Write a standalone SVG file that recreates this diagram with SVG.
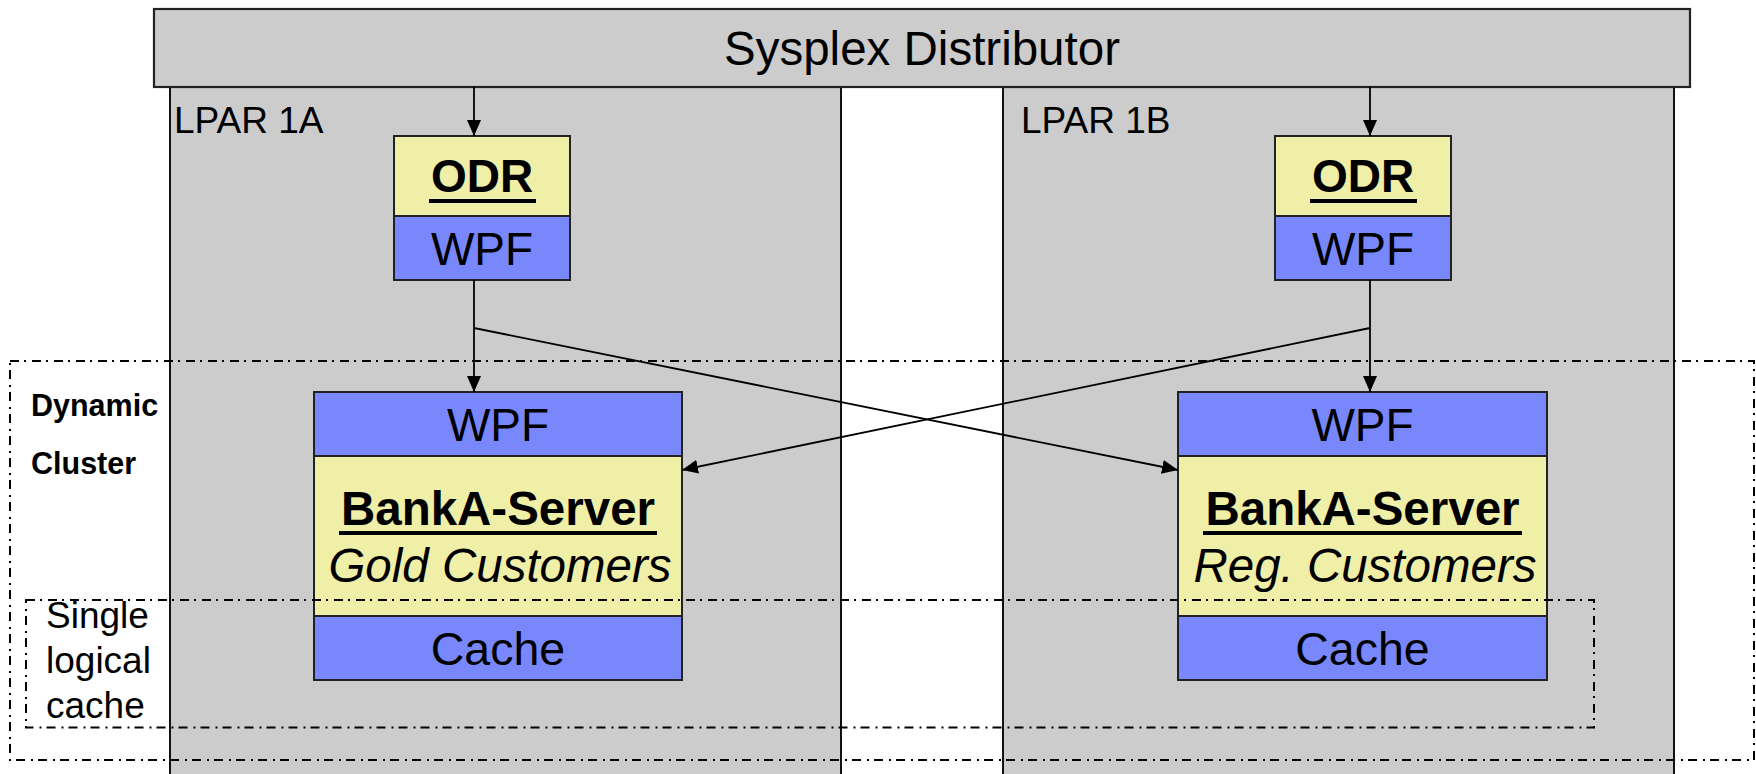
<svg xmlns="http://www.w3.org/2000/svg" width="1756" height="774" viewBox="0 0 1756 774">
  <defs>
    <marker id="ah" markerUnits="userSpaceOnUse" markerWidth="16" markerHeight="14" refX="16" refY="7" orient="auto">
      <path d="M0,0 L16,7 L0,14 z" fill="#000"/>
    </marker>
    <style>
      .t { font-family: "Liberation Sans", Arial, sans-serif; fill: #000; }
      .lpar { fill: #cccccc; stroke: #111; stroke-width: 2; }
      .gray { fill: #cccccc; stroke: #222; stroke-width: 2.2; }
      .yel { fill: #efefa8; stroke: #222; stroke-width: 2; }
      .blu { fill: #7888fc; stroke: #222; stroke-width: 2; }
      .dash { fill: none; stroke: #000; stroke-width: 2; stroke-dasharray: 9 5 2 6; }
      .conn { fill: none; stroke: #000; stroke-width: 1.8; }
      .arr { marker-end: url(#ah); }
      .ul { fill: #000; }
    </style>
  </defs>

  <rect width="1756" height="774" fill="#ffffff"/>

  <!-- Logical partitions -->
  <g id="lpar-1a">
    <rect class="lpar" x="170" y="80" width="671" height="720"/>
    <text class="t" x="174" y="133" font-size="37">LPAR 1A</text>
  </g>
  <g id="lpar-1b">
    <rect class="lpar" x="1003" y="80" width="671" height="720"/>
    <text class="t" x="1021" y="133" font-size="37">LPAR 1B</text>
  </g>

  <!-- Sysplex Distributor bar -->
  <g id="sysplex-distributor">
    <rect class="gray" x="154" y="9" width="1536" height="78"/>
    <text class="t" x="922" y="65" font-size="47.5" text-anchor="middle">Sysplex Distributor</text>
  </g>

  <!-- On-demand routers -->
  <g id="odr-1a">
    <rect class="yel" x="394" y="136" width="176" height="80"/>
    <rect class="blu" x="394" y="216" width="176" height="64"/>
    <text class="t" x="482" y="192" font-size="46" font-weight="bold" text-anchor="middle">ODR</text>
    <rect class="ul" x="429" y="199" width="107" height="4"/>
    <text class="t" x="482" y="265" font-size="46" text-anchor="middle">WPF</text>
  </g>
  <g id="odr-1b">
    <rect class="yel" x="1275" y="136" width="176" height="80"/>
    <rect class="blu" x="1275" y="216" width="176" height="64"/>
    <text class="t" x="1363" y="192" font-size="46" font-weight="bold" text-anchor="middle">ODR</text>
    <rect class="ul" x="1310" y="199" width="107" height="4"/>
    <text class="t" x="1363" y="265" font-size="46" text-anchor="middle">WPF</text>
  </g>

  <!-- Application servers -->
  <g id="server-gold">
    <rect class="blu" x="314" y="392" width="368" height="64"/>
    <rect class="yel" x="314" y="456" width="368" height="160"/>
    <rect class="blu" x="314" y="616" width="368" height="64"/>
    <text class="t" x="498" y="441" font-size="46" text-anchor="middle">WPF</text>
    <text class="t" x="498" y="525" font-size="47.5" font-weight="bold" text-anchor="middle">BankA-Server</text>
    <rect class="ul" x="339" y="531" width="318" height="4"/>
    <text class="t" x="500" y="582" font-size="47.5" font-style="italic" text-anchor="middle">Gold Customers</text>
    <text class="t" x="498" y="665" font-size="46.5" text-anchor="middle">Cache</text>
  </g>
  <g id="server-regular">
    <rect class="blu" x="1178" y="392" width="369" height="64"/>
    <rect class="yel" x="1178" y="456" width="369" height="160"/>
    <rect class="blu" x="1178" y="616" width="369" height="64"/>
    <text class="t" x="1362.5" y="441" font-size="46" text-anchor="middle">WPF</text>
    <text class="t" x="1362.5" y="525" font-size="47.5" font-weight="bold" text-anchor="middle">BankA-Server</text>
    <rect class="ul" x="1203" y="531" width="319" height="4"/>
    <text class="t" x="1365" y="582" font-size="47.5" font-style="italic" text-anchor="middle">Reg. Customers</text>
    <text class="t" x="1362.5" y="665" font-size="46.5" text-anchor="middle">Cache</text>
  </g>

  <!-- Groupings -->
  <g id="dynamic-cluster">
    <rect class="dash" x="10" y="361" width="1744" height="399"/>
    <text class="t" x="31" y="416" font-size="30.5" font-weight="bold">Dynamic</text>
    <text class="t" x="31" y="474" font-size="30.5" font-weight="bold">Cluster</text>
  </g>
  <g id="single-logical-cache">
    <rect class="dash" x="26" y="600" width="1568" height="127.5"/>
    <text class="t" font-size="37">
      <tspan x="46" y="628">Single</tspan>
      <tspan x="46" y="673">logical</tspan>
      <tspan x="46" y="718">cache</tspan>
    </text>
  </g>

  <!-- Request routing -->
  <g id="connectors">
    <line class="conn arr" x1="474" y1="87" x2="474" y2="136"/>
    <line class="conn arr" x1="1370" y1="87" x2="1370" y2="136"/>
    <line class="conn arr" x1="474" y1="280" x2="474" y2="392"/>
    <line class="conn arr" x1="1370" y1="280" x2="1370" y2="392"/>
    <line class="conn arr" x1="474" y1="328" x2="1178" y2="470"/>
    <line class="conn arr" x1="1370" y1="328" x2="682" y2="470"/>
  </g>
</svg>
